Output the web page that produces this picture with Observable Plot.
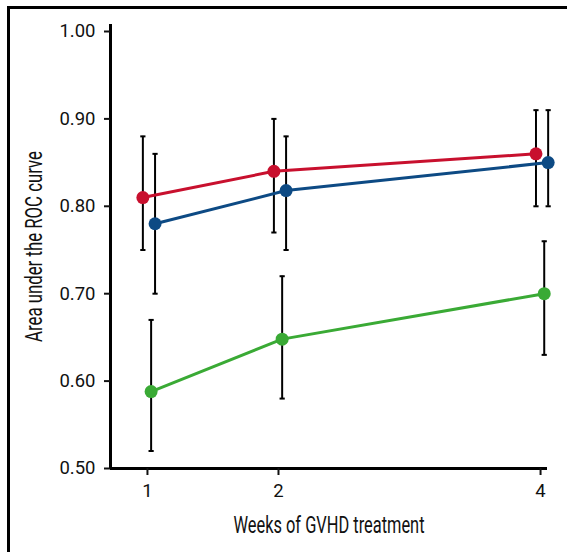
<!DOCTYPE html>
<html>
<head>
<meta charset="utf-8">
<script src="https://cdn.jsdelivr.net/npm/d3@7"></script>
<script src="https://cdn.jsdelivr.net/npm/@observablehq/plot@0.6"></script>
<style>
  html, body { margin: 0; padding: 0; background: #fff; overflow: hidden; }
  #wrap { position: relative; width: 567px; height: 552px; }
  #frame { position: absolute; left: 7px; top: 6px; width: 700px; height: 700px;
           border-left: 3px solid #000; border-top: 3px solid #000; pointer-events: none; }
  #chart { position: absolute; left: 0; top: 0; }
</style>
</head>
<body>
<div id="wrap"><div id="chart"></div><div id="frame"></div></div>
<script>
const weeks = [1, 2, 4];
const xTicks = [1, 2, 4];
const yTicks = [0.5, 0.6, 0.7, 0.8, 0.9, 1.0];
const seriesNames = ["Series A", "Series B", "Series C"];
const seriesColors = ["#c8102e", "#0d4a84", "#3aaa35"];
const aucA = [0.81, 0.84, 0.86];
const lowA = [0.75, 0.77, 0.80];
const highA = [0.88, 0.90, 0.91];
const aucB = [0.78, 0.818, 0.85];
const lowB = [0.70, 0.75, 0.80];
const highB = [0.86, 0.88, 0.91];
const aucC = [0.588, 0.648, 0.70];
const lowC = [0.52, 0.58, 0.63];
const highC = [0.67, 0.72, 0.76];
const xLabel = "Weeks of GVHD treatment";
const yLabel = "Area under the ROC curve";

// small horizontal dodge so overlapping error bars stay readable
const dodge = {"Series A": -0.035, "Series B": 0.058, "Series C": 0.028};

const series = [
  [seriesNames[0], aucA, lowA, highA],
  [seriesNames[1], aucB, lowB, highB],
  [seriesNames[2], aucC, lowC, highC]
];
const rows = series.flatMap(([name, v, lo, hi]) =>
  weeks.map((w, i) => ({series: name, week: w, xd: w + dodge[name], auc: v[i], low: lo[i], high: hi[i]}))
);

const cap = {
  draw(context, size) {
    const r = Math.sqrt(size / Math.PI);
    context.moveTo(-r, 0);
    context.lineTo(r, 0);
  }
};

const chart = Plot.plot({
  width: 567,
  height: 552,
  marginLeft: 110,
  marginRight: 20,
  marginTop: 24,
  marginBottom: 84,
  style: {background: "transparent", fontSize: "16px", color: "#111"},
  x: {domain: [0.718, 4.053], ticks: xTicks, tickFormat: d => String(d), tickSize: 7, tickPadding: 8, label: null},
  y: {domain: [0.5, 1.008], ticks: yTicks, tickFormat: d3.format(".2f"), tickSize: 6, tickPadding: 9, label: null},
  color: {domain: seriesNames, range: seriesColors},
  marks: [
    Plot.ruleX(rows, {x: "xd", y1: "low", y2: "high", stroke: "#000", strokeWidth: 2}),
    Plot.dot(rows, {x: "xd", y: "low", symbol: cap, r: 2.6, stroke: "#000", strokeWidth: 2, fill: "none"}),
    Plot.dot(rows, {x: "xd", y: "high", symbol: cap, r: 2.6, stroke: "#000", strokeWidth: 2, fill: "none"}),
    Plot.line(rows, {x: "xd", y: "auc", z: "series", stroke: "series", strokeWidth: 3}),
    Plot.dot(rows, {x: "xd", y: "auc", fill: "series", r: 6.5, stroke: "none"}),
    Plot.ruleX([0.718], {stroke: "#000", strokeWidth: 3}),
    Plot.ruleY([0.5], {stroke: "#000", strokeWidth: 3}),
    Plot.axisX({ticks: xTicks, tickFormat: d => String(d), tickSize: 7, tickPadding: 8, strokeWidth: 2, label: null, fontSize: 18.5}),
    Plot.axisY({ticks: yTicks, tickFormat: d3.format(".2f"), tickSize: 6, tickPadding: 9, strokeWidth: 2, label: null, fontSize: 18.5}),
    Plot.text([xLabel], {frameAnchor: "bottom", dy: 64, text: d => d, fontSize: 23, fill: "#111", className: "axlabel"}),
    Plot.text([yLabel], {frameAnchor: "left", dx: -76, rotate: -90, textAnchor: "middle", text: d => d, fontSize: 23, fill: "#111", className: "axlabel"})
  ]
});
const svg = d3.select(chart);
svg.selectAll("text").style("font-family", "Roboto, 'Liberation Sans', sans-serif");
svg.selectAll(".axlabel text")
  .attr("textLength", 191)
  .attr("lengthAdjust", "spacingAndGlyphs");
document.getElementById("chart").appendChild(chart);
</script>
</body>
</html>
